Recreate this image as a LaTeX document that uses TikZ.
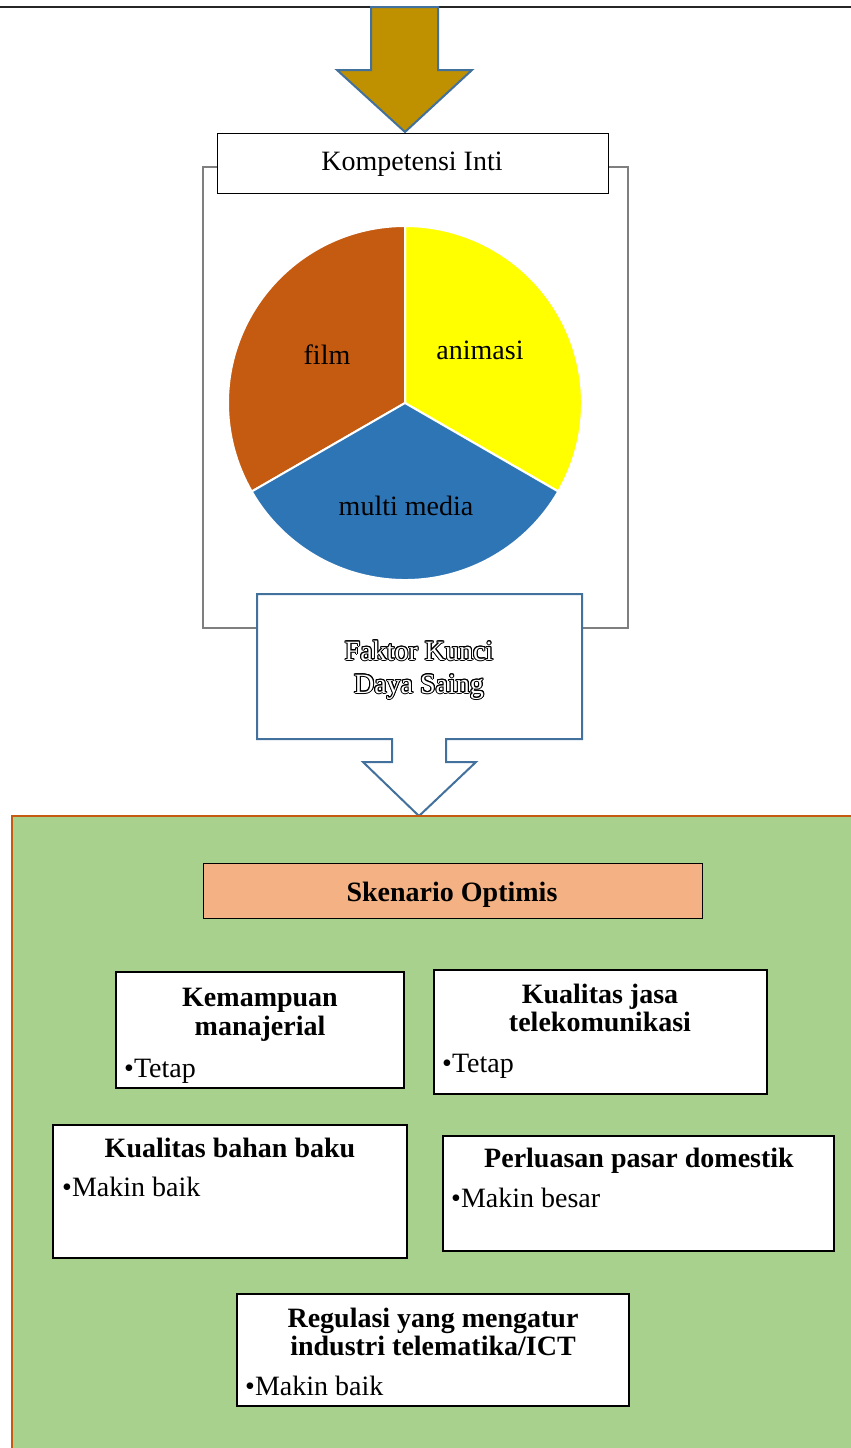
\documentclass[tikz,border=0pt]{standalone}
\usepackage{fontspec}
\setmainfont{Liberation Serif}
\usepackage[copies]{contour}
\usetikzlibrary{fit}

\definecolor{goldfill}{HTML}{BF9000}
\definecolor{shapeblue}{HTML}{41719C}
\definecolor{pieyellow}{HTML}{FFFF00}
\definecolor{piebrown}{HTML}{C55A11}
\definecolor{pieblue}{HTML}{2E75B6}
\definecolor{panelgreen}{HTML}{A9D18E}
\definecolor{panelrim}{HTML}{C55A11}
\definecolor{salmon}{HTML}{F4B183}
\definecolor{framegray}{HTML}{7F7F7F}

\contourlength{1pt}

\tikzset{
  txt/.style={inner sep=0pt, font=\fontsize{28}{31}\selectfont},
  ttl/.style={inner sep=0pt, font=\fontsize{28}{31}\selectfont\bfseries},
  card/.style={draw=black, line width=1.8pt, fill=white, inner sep=0pt},
  plainbox/.style={draw=black, line width=1pt, fill=white, inner sep=0pt},
}

\begin{document}
\begin{tikzpicture}[x=1pt,y=-1pt]
\useasboundingbox (0,0) rectangle (851,1448);
\fill[white] (0,0) rectangle (851,1448);

% rule across the top
\draw[line width=1.4pt, black!85] (0,7) -- (851,7);

% grey frame behind the upper part
\draw[framegray, line width=1.5pt] (203,167) rectangle (628,628);

% gold block arrow
\draw[fill=goldfill, draw=shapeblue, line width=2pt, line join=miter]
  (371,7) -- (438,7) -- (438,70) -- (472,70) -- (405,132) -- (337,70) -- (371,70) -- cycle;

% core competence box
\node[plainbox, fit={(217,133) (608,193)}] (inti) {};
\node[txt, anchor=base] (intitext) at (412,170) {Kompetensi Inti};

% pie of the three fields
\coordinate (pc) at (405,403);
\fill[pieyellow, draw=white, line width=2pt] (pc) -- ++(-30:177pt) arc[start angle=-30, end angle=90, radius=177pt] -- cycle;
\fill[piebrown, draw=white, line width=2pt] (pc) -- ++(90:177pt) arc[start angle=90, end angle=210, radius=177pt] -- cycle;
\fill[pieblue, draw=white, line width=2pt] (pc) -- ++(210:177pt) arc[start angle=210, end angle=330, radius=177pt] -- cycle;
\node[txt] (animasi) at (480,350) {animasi};
\node[txt] (film) at (327,355) {film};
\node[txt] (mm) at (406,506) {multi media};

% key factor callout with downward arrow
\draw[fill=white, draw=shapeblue, line width=2pt, line join=miter]
  (257,594) -- (582,594) -- (582,739) -- (446,739) -- (446,762) -- (476,762)
  -- (419,816) -- (363,762) -- (392,762) -- (392,739) -- (257,739) -- cycle;
\node[txt, anchor=base] (faktor1) at (419,660)
  {\contour{black}{\textcolor{white}{Faktor Kunci}}};
\node[txt, anchor=base] (faktor2) at (419,693)
  {\contour{black}{\textcolor{white}{Daya Saing}}};

% scenario panel
\draw[fill=panelgreen, draw=panelrim, line width=2pt] (12,816) rectangle (870,1470);

\node[fill=salmon, draw=black, line width=1pt, inner sep=0pt, fit={(203,863) (702,918)}] (skenario) {};
\node[ttl, anchor=base] (skentext) at (452,901) {Skenario Optimis};

% factor cards
\node[card, fit={(116,972) (404,1088)}] (kemampuan) {};
\node[ttl, anchor=base] at (260,1006) {Kemampuan};
\node[ttl, anchor=base] at (260,1035) {manajerial};
\node[txt, anchor=base west] at (124,1077) {•Tetap};

\node[card, fit={(434,970) (767,1094)}] (jasa) {};
\node[ttl, anchor=base] at (600,1003) {Kualitas jasa};
\node[ttl, anchor=base] at (600,1031) {telekomunikasi};
\node[txt, anchor=base west] at (442,1072) {•Tetap};

\node[card, fit={(53,1125) (407,1258)}] (bahan) {};
\node[ttl, anchor=base] at (230,1157) {Kualitas bahan baku};
\node[txt, anchor=base west] at (62,1196) {•Makin baik};

\node[card, fit={(443,1136) (834,1251)}] (pasar) {};
\node[ttl, anchor=base] at (639,1167) {Perluasan pasar domestik};
\node[txt, anchor=base west] at (451,1207) {•Makin besar};

\node[card, fit={(237,1294) (629,1406)}] (regulasi) {};
\node[ttl, anchor=base] at (433,1327) {Regulasi yang mengatur};
\node[ttl, anchor=base] at (433,1355) {industri telematika/ICT};
\node[txt, anchor=base west] at (245,1395) {•Makin baik};
\end{tikzpicture}
\end{document}
